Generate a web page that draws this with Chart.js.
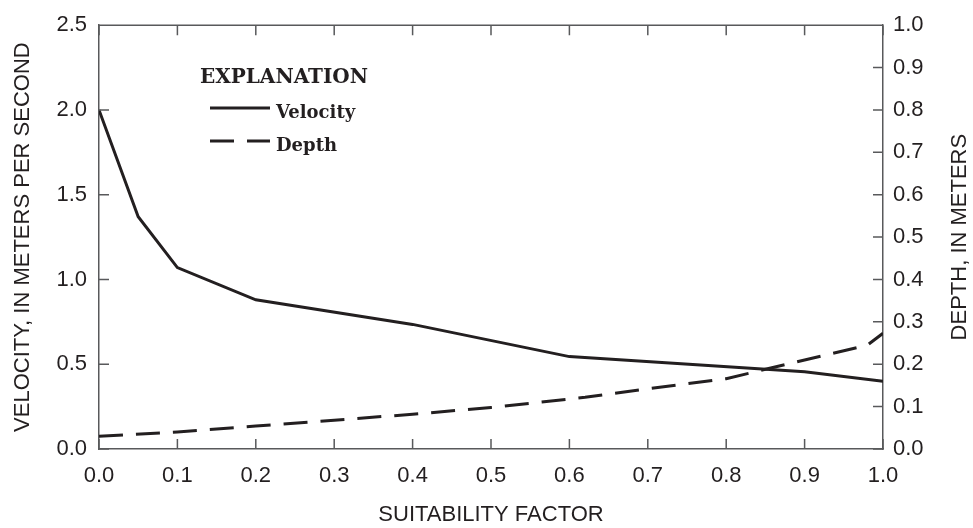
<!DOCTYPE html>
<html>
<head>
<meta charset="utf-8">
<script src="https://cdn.jsdelivr.net/npm/chart.js@4/dist/chart.umd.min.js"></script>
<style>
	html, body { margin: 0; padding: 0; background: #fff; }
	#wrap { width: 973px; height: 528px; }
</style>
</head>
<body>
<div id="wrap"><canvas id="chart"></canvas></div>
<script>
// suitability factor vs velocity (left axis) and depth (right axis)
const velocityX = [0, 0.05, 0.1, 0.2, 0.4, 0.6, 0.9, 1.0];
const velocityY = [2.0, 1.37, 1.07, 0.88, 0.735, 0.545, 0.455, 0.40];

const depthX = [0, 0.1, 0.2, 0.3, 0.4, 0.5, 0.62, 0.7, 0.8, 0.9, 0.98, 1.0];
const depthY = [0.03, 0.04, 0.054, 0.068, 0.082, 0.098, 0.122, 0.142, 0.166, 0.21, 0.245, 0.273];

const INK = '#231f20';
const FRAME = '#58595b';
const SANS = '"Liberation Sans", Arial, sans-serif';
const SERIF = '"DejaVu Serif", serif';

const toPoints = (xs, ys) => xs.map((x, i) => ({ x: x, y: ys[i] }));

// inward tick marks, the top border, right axis title and the explanation box
const extras = {
	id: 'extras',
	afterDraw(chart)
	{
		const { ctx, chartArea: a, scales } = chart;
		const len = 10;
		ctx.save();
		ctx.strokeStyle = FRAME;
		ctx.lineWidth = 1.5;
		ctx.beginPath();
		ctx.moveTo(a.left, a.top);
		ctx.lineTo(a.right, a.top);
		scales.x.ticks.forEach((t, i) => {
			const px = scales.x.getPixelForTick(i);
			ctx.moveTo(px, a.bottom);
			ctx.lineTo(px, a.bottom - len);
			ctx.moveTo(px, a.top);
			ctx.lineTo(px, a.top + len);
		});
		scales.y.ticks.forEach((t, i) => {
			const py = scales.y.getPixelForTick(i);
			ctx.moveTo(a.left, py);
			ctx.lineTo(a.left + len, py);
		});
		scales.y2.ticks.forEach((t, i) => {
			const py = scales.y2.getPixelForTick(i);
			ctx.moveTo(a.right, py);
			ctx.lineTo(a.right - len, py);
		});
		ctx.stroke();

		// right title reads bottom to top
		ctx.fillStyle = INK;
		ctx.font = '22px ' + SANS;
		ctx.textAlign = 'center';
		ctx.textBaseline = 'middle';
		ctx.translate(960, (a.top + a.bottom) / 2);
		ctx.rotate(-Math.PI / 2);
		ctx.fillText('DEPTH, IN METERS', 0, 0);
		ctx.restore();

		// explanation
		ctx.save();
		ctx.fillStyle = INK;
		ctx.textAlign = 'left';
		ctx.textBaseline = 'alphabetic';
		ctx.font = 'bold 20px ' + SERIF;
		ctx.fillText('EXPLANATION', 200, 83);
		ctx.font = 'bold 18px ' + SERIF;
		const lineY = [108, 141];
		const textY = [118, 151];
		chart.data.datasets.forEach((ds, i) => {
			ctx.strokeStyle = ds.borderColor;
			ctx.lineWidth = ds.borderWidth;
			ctx.setLineDash(ds.borderDash || []);
			ctx.beginPath();
			ctx.moveTo(210, lineY[i]);
			ctx.lineTo(270, lineY[i]);
			ctx.stroke();
			ctx.setLineDash([]);
			ctx.fillText(ds.label, 276, textY[i]);
		});
		ctx.restore();
	}
};

new Chart(document.getElementById('chart'), {
	type: 'line',
	data: {
		datasets: [
			{
				label: 'Velocity',
				data: toPoints(velocityX, velocityY),
				yAxisID: 'y',
				borderColor: INK,
				borderWidth: 3,
				pointRadius: 0,
				tension: 0,
			},
			{
				label: 'Depth',
				data: toPoints(depthX, depthY),
				yAxisID: 'y2',
				borderColor: INK,
				borderWidth: 3,
				borderDash: [24, 13],
				pointRadius: 0,
				tension: 0,
			}
		]
	},
	options: {
		responsive: true,
		maintainAspectRatio: false,
		animation: false,
		layout: { padding: { top: 15, left: 0, right: 0, bottom: 0 } },
		plugins: {
			legend: { display: false },
			tooltip: { enabled: false },
		},
		scales: {
			x: {
				type: 'linear',
				min: 0,
				max: 1,
				afterFit: s => { s.height = 79; },
				grid: { display: false, drawTicks: false },
				border: { display: true, color: FRAME, width: 1.5 },
				ticks: {
					stepSize: 0.1,
					padding: 14,
					color: INK,
					font: { family: SANS, size: 22 },
					callback: v => Number(v).toFixed(1),
				},
				title: {
					display: true,
					text: 'SUITABILITY FACTOR',
					color: INK,
					font: { family: SANS, size: 22 },
					padding: { top: 0, bottom: 0 },
				},
			},
			y: {
				position: 'left',
				min: 0,
				max: 2.5,
				afterFit: s => { s.width = 99; },
				grid: { display: false, drawTicks: false },
				border: { display: true, color: FRAME, width: 1.5 },
				ticks: {
					stepSize: 0.5,
					padding: 12,
					color: INK,
					font: { family: SANS, size: 22 },
					callback: v => Number(v).toFixed(1),
				},
				title: {
					display: true,
					text: 'VELOCITY, IN METERS PER SECOND',
					color: INK,
					font: { family: SANS, size: 22 },
					padding: { top: 10, bottom: 0 },
				},
			},
			y2: {
				position: 'right',
				min: 0,
				max: 1,
				afterFit: s => { s.width = 90; },
				grid: { display: false, drawTicks: false },
				border: { display: true, color: FRAME, width: 1.5 },
				ticks: {
					stepSize: 0.1,
					padding: 10,
					color: INK,
					font: { family: SANS, size: 22 },
					callback: v => Number(v).toFixed(1),
				},
			},
		}
	},
	plugins: [extras]
});
</script>
</body>
</html>
